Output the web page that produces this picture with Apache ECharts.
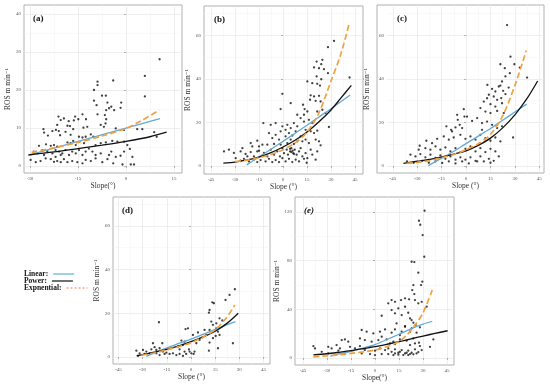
<!DOCTYPE html>
<html>
<head>
<meta charset="utf-8">
<script src="https://cdn.jsdelivr.net/npm/echarts@6/dist/echarts.min.js"></script>
<style>html,body{margin:0;padding:0;background:#fff}#c{width:550px;height:386px}</style>
</head>
<body>
<div id="c"></div>
<script>
// ---------- tick labels ----------
const ticksAx = [-30, -15, 0, 15];
const ticksAy = [0, 10, 20, 30, 40];
const ticksBx = [-45, -30, -15, 0, 15, 30, 45];
const ticksBy = [0, 20, 40, 60];
const ticksEy = [0, 40, 80, 120];

// ---------- panel (a) ----------
const ptsA = [[10.5,28.1],[5.9,23.7],[-4.0,22.5],[-8.9,22.2],[-8.9,21.3],[-10.0,20.0],[5.9,18.3],[-7.5,18.5],[-6.3,18.5],[-10,17.2],[-9.2,16.0],[-1.5,16.7],[-1.7,15.3],[-4.6,15.6],[-5.3,15.2],[-6.2,14.7],[-5.8,16.7],[-3.7,14.7],[-6.6,13.4],[-6.2,12.3],[-8.9,13.6],[-13.6,13.6],[-21.1,13.0],[-20.4,12.1],[-19.4,12.5],[-15.9,13.0],[-14.9,12.3],[-12.5,12.3],[-17.9,11.8],[-18.3,10.6],[-17.5,10.5],[-16.3,12.0],[-21.5,10.8],[-21.9,9.5],[-21.0,9.2],[-20.6,8.1],[-23,9.2],[-24.4,8.0],[-25.8,9.7],[-25.6,8.8],[-18.9,9.0],[-17.3,8.2],[-16.5,9.7],[-13.3,10.1],[-12.1,10.3],[-7.9,10.8],[-6.9,10.3],[-6.4,11.2],[-3.2,9.9],[-0.6,9.5],[3.5,9.7],[5.1,9.7],[8.8,8.9],[9.6,7.7],[-25,5.7],[-23.5,5.3],[-22.5,5.5],[-21.5,5.1],[-18.3,6.2],[-17.3,6.0],[-16.5,6.6],[-14.7,7.7],[-13.6,7.5],[-12.6,7.7],[-11,8.3],[-10.2,7.7],[-9.5,5.5],[-7.9,6],[-6.3,6.2],[-4.3,6.6],[-2.7,6.4],[-0.6,6.4],[0.4,5.5],[1.2,4.5],[-28.8,3.8],[-27.7,3.3],[-26.1,4.2],[-24.6,3.9],[-23,3.3],[-22,4.2],[-20.9,3.8],[-19.9,3.3],[-18.9,4.2],[-17.8,2.9],[-16.8,3.8],[-15.7,3.3],[-14.7,4.2],[-13.6,2.9],[-12.6,3.8],[-11.6,4.6],[-10.5,3.8],[-9.5,2.9],[-7.9,3.3],[-5.3,2.9],[-4.6,3.8],[-3.2,2.4],[-1.7,2.7],[-0.6,3.8],[-29.8,1.6],[-28.2,1.0],[-26.7,1.3],[-25.1,2.0],[-23.5,1.8],[-22.5,1.1],[-21.5,1.3],[-20.4,1.0],[-19.4,1.8],[-18.3,1.0],[-16.8,1.3],[-15.2,1.0],[-13.6,0.7],[-12.6,1.6],[-11,1.3],[-9.5,2.0],[-7.4,1.0],[-5.8,1.8],[-4,0.7],[-1.1,0.4],[1.5,0.4],[2.5,0.4],[2,2.4],[-22,2.4],[-25.6,2.9],[-20.4,2.9],[-27.2,5.3],[-15.7,5.5],[-13.1,6.0]];
const linA = [[-29.8,3.0],[10.6,12.5]];
const powA = [[-30.5,2.9],[-22.5,3.7],[-15,4.6],[-7.5,5.5],[0,6.5],[7.5,7.7],[12.7,8.9]];
const expA = [[-29.5,3.6],[-22.5,4.8],[-15,6.2],[-7.5,7.9],[0,9.9],[5,12.0],[10.4,14.7]];

// ---------- panel (b) ----------
const ptsB = [[31.9,57.4],[28.1,54.5],[24.6,48.7],[23.9,46.7],[21.0,47.9],[19.4,45.2],[22.5,44.9],[25.6,44.4],[28.1,42.6],[21.0,41.1],[23.9,39.8],[15.2,38.8],[18.3,38.0],[21.4,37.7],[23.1,36.9],[41.6,40.6],[-0.4,33.1],[17.3,32.4],[19.4,31.9],[22.5,32.2],[16.9,30.4],[20.4,29.9],[23.5,29.6],[4.8,28.8],[12.5,28.1],[13.5,26.1],[-1.5,26.1],[21.4,25.0],[24.6,25.8],[26.6,24.3],[11.0,22.0],[13.1,20.4],[16.2,21.2],[18.3,19.7],[6.8,19.7],[8.9,18.2],[4.8,17.4],[-12.3,19.7],[-7.7,18.9],[-4.6,19.7],[-0.4,18.2],[1.6,16.6],[2.7,18.9],[28.7,17.9],[14.1,16.6],[17.3,15.9],[19.4,15.1],[21.4,16.2],[-20.2,10.5],[-16.1,11.6],[-12.9,9.8],[-6.7,12.8],[-2.5,12.1],[1.6,13.6],[3.7,15.1],[5.8,14.0],[7.9,15.9],[11.0,13.6],[12.1,11.3],[14.1,12.1],[16.2,10.5],[20.4,12.1],[22.5,11.3],[23.5,9.5],[-36.9,6.7],[-33.8,7.5],[-30.7,6.0],[-26.5,6.7],[-23.4,5.5],[-20.2,6.4],[-18.2,4.4],[-15.0,7.0],[-11.9,6.0],[-9.8,4.4],[-7.7,7.5],[-5.6,5.2],[-3.6,6.7],[-1.9,4.4],[-0.4,8.2],[0.6,5.9],[2.3,7.5],[3.1,5.2],[4.4,6.7],[5.2,8.2],[6.4,5.9],[7.3,7.5],[8.5,5.2],[10.0,6.7],[11.0,8.2],[12.1,4.4],[14.1,5.9],[15.2,3.6],[17.3,7.5],[18.3,5.2],[20.4,2.9],[21.4,6.7],[-29.6,3.6],[-26.5,2.4],[-24.4,3.3],[-21.3,2.1],[-18.2,2.9],[-16.1,1.8],[-14.0,2.7],[-10.9,2.1],[-8.8,3.3],[-6.7,1.8],[-4.6,2.7],[-2.5,1.8],[-0.4,3.6],[1.6,2.1],[3.7,3.3],[5.8,1.8],[7.9,2.9],[10.0,2.1],[13.1,3.3],[14.8,1.5],[-25.4,8.2],[-19.2,9.0],[-9.8,9.8],[-5.6,10.1],[-1.5,9.8],[2.7,10.5],[6.8,10.1],[8.9,11.3],[-8.8,15.1],[-4.6,14.3],[-1.5,15.9],[4.8,12.1],[13.1,23.5],[15.2,25.0],[8.9,23.5],[-15,9],[-16.1,6.7],[-22.3,4.4],[4.4,7.9],[5.2,6.4],[6.0,7.0],[6.8,5.5]];
const linB = [[-22.7,0.5],[-15,4.2],[-7.5,7.7],[0,11.3],[7.5,15.0],[15,18.7],[22.5,22.5],[30,26.3],[42,32.6]];
const powB = [[-37.3,1.3],[-30,1.8],[-22.5,2.8],[-15,4.1],[-7.5,6.1],[0,8.7],[7.5,11.8],[15,15.6],[22.5,20.3],[30,25.7],[36,31.0],[42.7,37.0]];
const expB = [[-30,2.0],[-22.5,2.7],[-15,3.8],[-7.5,5.3],[0,7.5],[7.5,10.6],[15,15.5],[22.5,24.5],[30,39],[36,51],[41.6,66]];

// ---------- panel (c) ----------
const ptsC = [[25.2,64.7],[27.3,50.2],[21.1,46.7],[23.8,44.9],[29.7,46.7],[33.0,45.2],[26.9,42.6],[24.2,41.1],[22.1,38.8],[37.5,40.6],[13.1,37.2],[16.0,35.4],[18.0,34.2],[20.1,36.5],[21.1,36.9],[22.8,34.5],[24.2,33.0],[14.0,32.7],[17.0,31.9],[19.1,30.4],[21.6,31.2],[10.9,29.6],[15.0,28.4],[18.0,27.3],[22.1,28.8],[-1.4,26.1],[8.8,26.6],[11.9,25.0],[15.0,24.3],[19.1,25.3],[23.2,24.3],[-5.1,21.2],[-3.9,18.9],[-2.4,17.4],[0.6,22.7],[3.7,20.7],[6.8,22.0],[9.8,19.7],[12.9,20.4],[16.0,18.9],[19.1,17.4],[22.1,18.2],[28.9,13.1],[-12.1,18.2],[-9.2,16.6],[-6.5,17.7],[-17.8,12.5],[-13.7,13.6],[-10.6,12.1],[-7.6,13.1],[-3.5,14.3],[-0.4,12.5],[2.7,13.6],[5.8,12.1],[8.8,14.3],[11.9,12.8],[15.0,11.6],[18.0,13.1],[21.1,11.3],[-28.5,9.3],[-25.0,8.2],[-21.9,7.5],[-18.8,9.0],[-15.8,7.5],[-12.7,8.5],[-9.6,6.7],[-6.5,8.2],[-3.5,6.4],[-0.4,7.9],[2.7,9.0],[5.8,6.7],[8.8,8.2],[11.9,6.4],[15.0,7.9],[18.0,6.7],[-34.2,5.2],[-31.1,4.4],[-28.1,5.5],[-25.0,4.0],[-21.9,5.2],[-18.8,3.7],[-15.8,4.9],[-12.7,3.3],[-9.6,4.4],[-6.5,2.9],[-3.5,4.0],[-0.4,2.9],[2.7,4.0],[5.8,2.4],[8.8,4.4],[10.9,2.1],[14.0,3.3],[17.0,2.4],[20.1,4.4],[-36.3,2.1],[-32.2,1.5],[-27.0,2.4],[-22.9,1.5],[-18.8,2.1],[-14.7,1.4],[-10.6,2.1],[-6.5,1.2],[-2.4,2.1],[1.7,1.2],[6.8,2.1],[15.0,1.5],[-5.5,23.5],[-1.0,22.7],[-8.6,15.9],[-24.4,11.6],[-20.9,10.5],[-29.1,7.5],[26.2,36.0],[12.9,31.1],[9.8,16.6]];
const linC = [[-23.2,0.2],[-15,3.6],[-7.5,6.8],[0,10.3],[7.5,13.7],[15,17.2],[22.5,21.0],[30,24.8],[37.3,28.4]];
const powC = [[-38.5,1.2],[-30,2.2],[-22.5,3.0],[-15,4.2],[-7.5,5.5],[0,7.0],[7.5,9.5],[15,12.8],[22.5,17.5],[30,23.5],[37.5,31.0],[44,39.0]];
const expC = [[-36.5,1.2],[-30,1.7],[-22.5,2.5],[-15,3.8],[-7.5,5.3],[0,7.5],[7.5,10.2],[15,14.5],[22.5,23.0],[30,37.0],[37,53.0]];

// ---------- panel (d) ----------
const ptsD = [[27.2,31.0],[23.9,28.4],[21.4,26.1],[13.2,25.0],[14.2,24.6],[11.5,21.5],[11.1,20.3],[17.7,17.7],[19.4,16.7],[15.7,15.4],[12.6,16.2],[13.6,14.7],[11.5,12.4],[-19.9,15.9],[-3.4,12.8],[-1.9,13.1],[15.7,13.1],[16.7,11.6],[17.7,10.1],[15.3,9.6],[8.4,12.4],[9.5,10.1],[7.0,9.0],[4.3,11.2],[1.2,10.1],[26.0,6.3],[16.7,4.0],[11.1,2.9],[-6.0,7.5],[-4.0,7.0],[-5.0,5.5],[-8.1,4.8],[-7.1,3.5],[-4.0,2.5],[-1.3,3.5],[0.2,1.7],[2.2,2.5],[-3.0,1.4],[-11.2,1.7],[-13.3,1.4],[-9.1,0.9],[-23.6,6.3],[-22.6,4.5],[-17.8,6.3],[-24.6,3.5],[-21.5,3.2],[-19.5,4.0],[-17.4,2.5],[-15.3,2.0],[-25.7,1.7],[-27.7,2.5],[-29.8,3.2],[-33.9,2.9],[-31.9,1.7],[-28.8,1.4],[-32.9,0.5],[-21.5,1.7],[-19.5,0.9],[-16.4,1.4],[-7.1,1.4],[-5.0,0.5],[5.3,7.8],[3.3,6.3],[11.5,6.6],[13.6,8.6],[-0.9,2.5],[1.6,1.4]];
const linD = [[-27.7,0.3],[-22.5,2.0],[-15,4.2],[-7.5,6.2],[0,8.2],[7.5,10.4],[15,12.6],[22.5,14.8],[27.6,16.2]];
const powD = [[-33.7,0.6],[-30,1.1],[-22.5,2.2],[-15,3.5],[-7.5,5.1],[0,7.0],[7.5,9.2],[15,11.8],[22.5,15.5],[29.3,20.0]];
const expD = [[-30.8,0.8],[-22.5,1.9],[-15,3.3],[-7.5,4.8],[0,6.5],[7.5,9.2],[15,12.5],[22,18.0],[27.2,23.8]];

// ---------- panel (e) ----------
const ptsE = [[31.0,121.0],[27.5,112.8],[28.3,109.5],[29.8,101.0],[30.8,83.2],[22.9,79.1],[24.6,78.8],[27.1,70.1],[29.6,62.7],[28.8,59.9],[24.0,59.9],[23.3,55.8],[24.6,52.5],[18.8,49.0],[16.3,47.6],[21.3,48.2],[12.5,46.2],[10.4,47.6],[8.3,44.9],[25.0,47.6],[27.1,44.9],[29.2,46.2],[32.3,42.1],[18.8,42.1],[14.6,40.8],[4.2,34.7],[10.4,39.4],[12.5,36.7],[16.7,35.3],[20.8,37.2],[21.9,32.5],[22.9,31.2],[24.0,29.0],[25.4,27.1],[13.5,28.4],[18.8,26.2],[22.9,24.3],[28.1,25.2],[-8.3,23.0],[-5.2,21.6],[6.3,23.5],[-1.0,20.2],[3.1,21.6],[10.4,20.8],[15.6,18.8],[-20.8,14.7],[-18.8,15.3],[-16.7,13.4],[-24.0,10.6],[-27.1,7.9],[-21.9,7.9],[-29.2,9.2],[-38.5,9.8],[-37.5,7.9],[-9.4,16.1],[-6.3,14.7],[-2.1,13.4],[2.1,14.7],[4.2,17.5],[7.3,15.3],[11.5,13.4],[15.6,15.3],[19.8,14.2],[24.0,16.1],[27.5,12.6],[34.4,9.2],[36.5,15.3],[-15.6,9.2],[-12.5,7.9],[-9.4,9.8],[-6.3,6.5],[-3.1,9.2],[0,6.0],[3.1,7.9],[6.3,6.5],[8.3,7.9],[10.4,5.1],[12.5,7.1],[14.6,4.3],[16.7,6.5],[18.8,3.8],[20.8,6.0],[22.9,4.3],[25.0,7.1],[27.1,4.9],[29.2,6.5],[8.3,3.2],[11.5,2.4],[14.6,2.7],[17.7,2.4],[20.8,2.4],[24.0,3.0],[0,2.4],[4.2,3.2],[-8.3,3.8],[-3.1,3.2],[-33.3,5.1],[-29.2,3.8],[-22.9,6.0],[-18.8,3.2],[18.8,25.7],[21.9,21.6],[26.0,20.8],[12.5,23.5],[16.7,21.6],[9.4,12.0],[12.5,11.5],[21.9,10.6],[25.0,12.0],[28.1,9.8],[12.5,3.8],[15.6,5.1],[19.8,4.3],[21.9,3.2],[26.0,3.8]];
const linE = [[-28,1.6],[-22.5,3.3],[-15,5.5],[-7.5,8.2],[0,11.0],[7.5,15.2],[15,19.5],[22.5,24.0],[30,27.8],[35.8,30.2]];
const powE = [[-38.5,2.5],[-30,3.5],[-22.5,4.7],[-15,6.0],[-7.5,7.6],[0,9.3],[7.5,11.3],[15,13.4],[22.5,15.7],[30,18.0],[37.5,20.2],[45.4,22.4]];
const expE = [[-38.5,1.0],[-30,1.8],[-22.5,2.7],[-15,3.8],[-7.5,5.0],[0,6.5],[7.5,9.3],[15,13.5],[20,19.0],[25,27.0],[30,37.0],[35.8,55.8]];

// ---------- legend ----------
const legendNames = ['Linear', 'Power', 'Expnential'];

// ---------- layout ----------
const SERIF = "'Liberation Serif','DejaVu Serif',serif";
const panels = [
  {lab:'(a)', g:{left:24,top:5,width:158,height:168}, xr:[-31.875,17.5], yr:[-1.84,42.37], xt:ticksAx, yt:ticksAy, xname:'Slope(°)', yGap:10, pts:ptsA, lin:linA, pow:powA, exp:expA, lx:28, ly:9, italic:false},
  {lab:'(b)', g:{left:204,top:6,width:159,height:168}, xr:[-49.4,50], yr:[-3.67,73.4], xt:ticksBx, yt:ticksBy, xname:'Slope (°)', yGap:12, pts:ptsB, lin:linB, pow:powB, exp:expB, lx:209, ly:10, italic:false},
  {lab:'(c)', g:{left:387,top:5,width:157,height:168}, xr:[-48.6,47.9], yr:[-3.2,73.9], xt:ticksBx, yt:ticksBy, xname:'Slope (°)', yGap:16, pts:ptsC, lin:linC, pow:powC, exp:expC, lx:392, ly:9, italic:false, noBorder:true},
  {lab:'(d)', g:{left:113,top:197,width:157,height:167}, xr:[-48.4,49], yr:[-3.2,73.2], xt:ticksBx, yt:ticksBy, xname:'Slope (°)', yGap:9, pts:ptsD, lin:linD, pow:powD, exp:expD, lx:117, ly:201, italic:false},
  {lab:'(e)', g:{left:295,top:197,width:159,height:168}, xr:[-50,49.4], yr:[-5.75,132.3], xt:ticksBx, yt:ticksEy, xname:'Slope(°)', yGap:13, pts:ptsE, lin:linE, pow:powE, exp:expE, lx:299, ly:201, italic:true}
];

function minorOf(t, lo, hi) {
  const step = t[1] - t[0], out = [];
  for (let v = t[0] - step / 2; v <= hi; v += step) if (v >= lo) out.push(v);
  return out;
}

const grid = [], xAxis = [], yAxis = [], series = [], title = [];
const labelStyle = {fontSize:5, color:'#555', fontFamily:SERIF};
const nameStyle = {fontSize:7.5, color:'#333', fontFamily:SERIF};
const C_LIN = '#62a8d8', C_POW = '#111', C_EXP = '#f0a040';

panels.forEach((p, i) => {
  grid.push(Object.assign({show:true, borderColor: p.noBorder ? 'transparent' : '#b0b0b0', borderWidth:1, containLabel:false}, p.g));
  const gi = grid.length - 1;
  xAxis.push({gridIndex:gi, type:'value', min:p.xr[0], max:p.xr[1],
    axisLine:{show:false}, axisTick:{show:true, length:2, lineStyle:{color:'#888', width:0.6}, customValues:p.xt},
    axisLabel:{customValues:p.xt, margin:3, ...labelStyle},
    splitLine:{show:true, lineStyle:{color:'#e6e6e6', width:0.7}},
    name:p.xname, nameLocation:'middle', nameGap:9, nameTextStyle:nameStyle});
  xAxis.push({gridIndex:gi, type:'value', min:p.xr[0], max:p.xr[1], position:'bottom',
    axisLine:{show:false}, axisTick:{show:false, customValues:minorOf(p.xt, p.xr[0], p.xr[1])},
    axisLabel:{show:false}, splitLine:{show:true, lineStyle:{color:'#f2f2f2', width:0.5}}});
  yAxis.push({gridIndex:gi, type:'value', min:p.yr[0], max:p.yr[1],
    axisLine:{show:false}, axisTick:{show:true, length:2, lineStyle:{color:'#888', width:0.6}, customValues:p.yt},
    axisLabel:{customValues:p.yt, margin:3, ...labelStyle},
    splitLine:{show:true, lineStyle:{color:'#e6e6e6', width:0.7}},
    name:'ROS m min⁻¹', nameLocation:'middle', nameGap:p.yGap, nameRotate:90, nameTextStyle:nameStyle});
  yAxis.push({gridIndex:gi, type:'value', min:p.yr[0], max:p.yr[1], position:'left',
    axisLine:{show:false}, axisTick:{show:false, customValues:minorOf(p.yt, p.yr[0], p.yr[1])},
    axisLabel:{show:false}, splitLine:{show:true, lineStyle:{color:'#f2f2f2', width:0.5}}});
  const xi = 2 * i, yi = 2 * i;
  series.push({type:'scatter', xAxisIndex:xi, yAxisIndex:yi, data:p.pts, symbolSize:2.3,
    itemStyle:{color:'#111'}, silent:true, z:2});
  series.push({name:legendNames[0], type:'line', xAxisIndex:xi, yAxisIndex:yi, data:p.lin, symbol:'none',
    smooth:0.3, lineStyle:{color:C_LIN, width:1.3}, itemStyle:{color:C_LIN}, z:3});
  series.push({name:legendNames[1], type:'line', xAxisIndex:xi, yAxisIndex:yi, data:p.pow, symbol:'none',
    smooth:0.3, lineStyle:{color:C_POW, width:1.3}, itemStyle:{color:C_POW}, z:4});
  series.push({name:legendNames[2], type:'line', xAxisIndex:xi, yAxisIndex:yi, data:p.exp, symbol:'none',
    smooth:0.3, lineStyle:{color:C_EXP, width:1.7, type:[6,3]}, itemStyle:{color:C_EXP}, z:5});
  title.push({text:p.lab, left:p.lx, top:p.ly, textStyle:{fontSize:9, fontWeight:'bold', fontStyle:p.italic?'italic':'normal', color:'#111', fontFamily:SERIF}});
});

// frame of panel (c), drawn as an empty bordered grid
grid.push({show:true, borderColor:'#b0b0b0', borderWidth:1, left:377, top:5, width:167, height:168});
const fi = grid.length - 1;
xAxis.push({gridIndex:fi, type:'value', show:false, min:0, max:1});
yAxis.push({gridIndex:fi, type:'value', show:false, min:0, max:1});

const legendLine = [
  {color:'#7cc3dc', width:1.5, type:'solid'},
  {color:'#111', width:1.2, type:'solid'},
  {color:'#f07a50', width:1.2, type:[2,2]}
];
const legendTops = [270, 277, 284];
const legend = legendNames.map((n, k) => ({
  orient:'horizontal', left:24, top:legendTops[k], align:'right', itemWidth:21, itemHeight:6, padding:0,
  formatter: s => s + ':',
  textStyle:{fontSize:7.5, fontWeight:'bold', color:'#111', fontFamily:SERIF},
  data:[{name:n, itemStyle:{opacity:0}, lineStyle:legendLine[k]}],
  selectedMode:false
}));

const option = {
  backgroundColor:'#fff',
  animation:false,
  title, legend,
  grid, xAxis, yAxis, series
};
const chart = echarts.init(document.getElementById('c'), null, {renderer:'canvas'});
chart.setOption(option);
</script>
</body>
</html>
